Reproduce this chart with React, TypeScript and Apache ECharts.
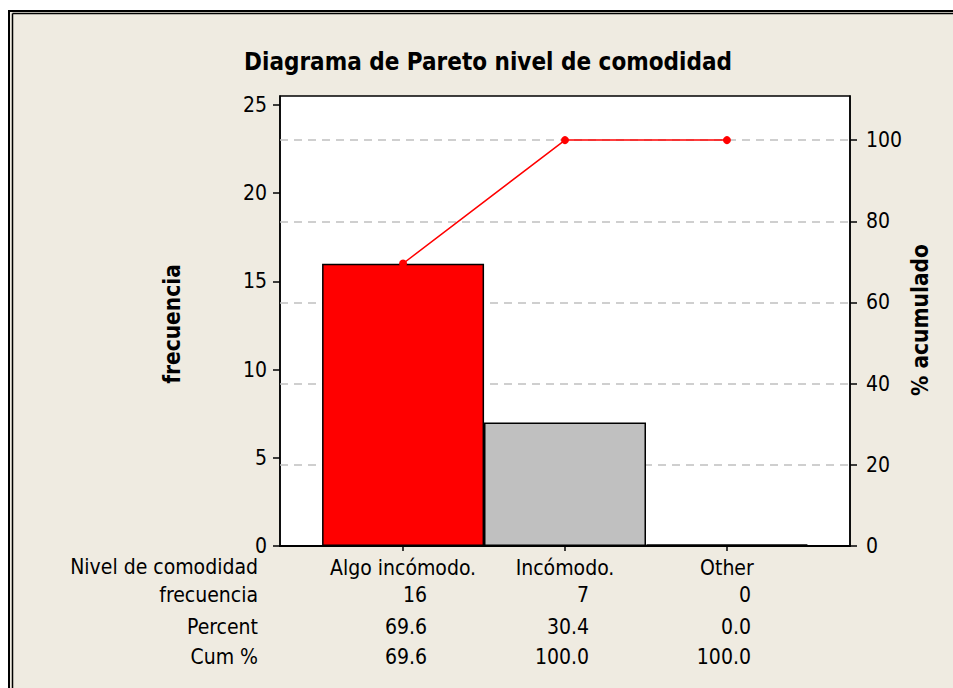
import React, { useEffect, useRef } from "react";
import * as echarts from "echarts";

const categories = ["Algo incómodo.", "Incómodo.", "Other"];
const frequencies = [16, 7, 0];
const percents = ["69.6", "30.4", "0.0"];
const cumPercents = [69.6, 100.0, 100.0];
const cumLabels = ["69.6", "100.0", "100.0"];
const rowLabels = ["Nivel de comodidad", "frecuencia", "Percent", "Cum %"];
const leftTicks = [0, 5, 10, 15, 20, 25];
const rightTicks = [0, 20, 40, 60, 80, 100];
const barColors = ["#FF0000", "#C0C0C0", "#C0C0C0"];

const FONT = "'DejaVu Sans Condensed', 'DejaVu Sans', sans-serif";
const BG = "#EFEBE1";
const FS = 21;

export default function App() {
  const ref = useRef<HTMLDivElement>(null);
  useEffect(() => {
    if (!ref.current) return;
    const chart = echarts.init(ref.current, null, { renderer: "svg" });
    const total = frequencies.reduce((a, b) => a + b, 0);
    const leftMax = 25.5;
    const rightMax = (leftMax / total) * 100;
    const axisText = { color: "#000", fontSize: FS, fontFamily: FONT };

    chart.setOption({
      animation: false,
      backgroundColor: BG,
      grid: {
        left: 280,
        right: 103,
        top: 96,
        bottom: 142,
        show: true,
        backgroundColor: "#fff",
        borderColor: "#000",
        borderWidth: 1.5,
      },
      xAxis: {
        type: "value",
        min: -0.76,
        max: 2.76,
        splitLine: { show: false },
        axisLine: { show: true, onZero: false, lineStyle: { color: "#000", width: 2 } },
        axisTick: {
          show: true,
          customValues: [0, 1, 2],
          length: 5,
          lineStyle: { color: "#000", width: 1.5 },
        },
        axisLabel: {
          customValues: [0, 1, 2],
          margin: 11,
          ...axisText,
          formatter: (v: number) => categories[Math.round(v)] ?? "",
        },
      },
      yAxis: [
        {
          type: "value",
          min: 0,
          max: leftMax,
          position: "left",
          splitLine: { show: false },
          axisLine: { show: true, onZero: false, lineStyle: { color: "#000", width: 1.5 } },
          axisTick: {
            show: true,
            customValues: leftTicks,
            length: 7,
            lineStyle: { color: "#000", width: 1.5 },
          },
          axisLabel: { customValues: leftTicks, margin: 13, ...axisText },
        },
        {
          type: "value",
          min: 0,
          max: rightMax,
          position: "right",
          splitLine: { show: false },
          axisLine: { show: true, onZero: false, lineStyle: { color: "#000", width: 1.5 } },
          axisTick: {
            show: true,
            customValues: rightTicks,
            length: 7,
            lineStyle: { color: "#000", width: 1.5 },
          },
          axisLabel: { customValues: rightTicks, margin: 16, ...axisText },
        },
      ],
      series: [
        {
          type: "line",
          yAxisIndex: 1,
          data: [],
          silent: true,
          markLine: {
            silent: true,
            symbol: "none",
            z: 1,
            label: { show: false },
            lineStyle: { type: [8, 6], color: "#C0C0C0", width: 1.5 },
            data: rightTicks.filter((v) => v > 0).map((v) => ({ yAxis: v })),
          },
        },
        {
          type: "bar",
          z: 2,
          barWidth: 162,
          barMinHeight: 1,
          data: frequencies.map((v, i) => ({
            value: [i, v],
            itemStyle: { color: barColors[i], borderWidth: v === 0 ? 2.5 : 1.5 },
          })),
          itemStyle: { borderColor: "#000", borderWidth: 1.5 },
        },
        {
          type: "line",
          z: 3,
          yAxisIndex: 1,
          data: cumPercents.map((v, i) => [i, v]),
          symbol: "circle",
          symbolSize: 8,
          itemStyle: { color: "#FF0000" },
          lineStyle: { color: "#FF0000", width: 1.5 },
        },
      ],
    });

    const xs = categories.map((_, i) =>
      chart.convertToPixel({ xAxisIndex: 0 }, i) as number
    );
    const rowY = [567, 595, 627, 657];
    const tableText = (text: string, x: number, y: number, align: string) => ({
      type: "text",
      x,
      y,
      style: {
        text,
        fill: "#000",
        font: `${FS}px ${FONT}`,
        align,
        verticalAlign: "middle",
      },
    });
    const elements: any[] = [
      { type: "rect", shape: { x: 0, y: 0, width: 953, height: 10 }, style: { fill: "#fff" } },
      { type: "rect", shape: { x: 0, y: 0, width: 8, height: 688 }, style: { fill: "#fff" } },
      { type: "line", shape: { x1: 9, y1: 10, x2: 9, y2: 688 }, style: { stroke: "#000", lineWidth: 2 } },
      { type: "line", shape: { x1: 8, y1: 11, x2: 953, y2: 11 }, style: { stroke: "#000", lineWidth: 2 } },
      { type: "line", shape: { x1: 12.5, y1: 13.5, x2: 12.5, y2: 688 }, style: { stroke: "#000", lineWidth: 1.5 } },
      { type: "line", shape: { x1: 12.5, y1: 13.5, x2: 953, y2: 13.5 }, style: { stroke: "#000", lineWidth: 1.5 } },
      {
        type: "text",
        x: 488,
        y: 62,
        style: {
          text: "Diagrama de Pareto nivel de comodidad",
          fill: "#000",
          font: `bold 24px ${FONT}`,
          align: "center",
          verticalAlign: "middle",
        },
      },
      {
        type: "text",
        x: 172,
        y: 324,
        rotation: Math.PI / 2,
        style: {
          text: "frecuencia",
          fill: "#000",
          font: `bold 22.5px ${FONT}`,
          align: "center",
          verticalAlign: "middle",
        },
      },
      {
        type: "text",
        x: 920,
        y: 320,
        rotation: Math.PI / 2,
        style: {
          text: "% acumulado",
          fill: "#000",
          font: `bold 22.5px ${FONT}`,
          align: "center",
          verticalAlign: "middle",
        },
      },
    ];
    rowLabels.forEach((t, r) => elements.push(tableText(t, 258, rowY[r], "right")));
    const rows = [frequencies.map(String), percents, cumLabels];
    rows.forEach((vals, r) => {
      vals.forEach((t, i) => elements.push(tableText(t, xs[i] + 24, rowY[r + 1], "right")));
    });
    chart.setOption({ graphic: { elements } });

    return () => chart.dispose();
  }, []);

  return (
    <div
      ref={ref}
      style={{ position: "fixed", left: 0, top: 0, width: 953, height: 688 }}
    />
  );
}
